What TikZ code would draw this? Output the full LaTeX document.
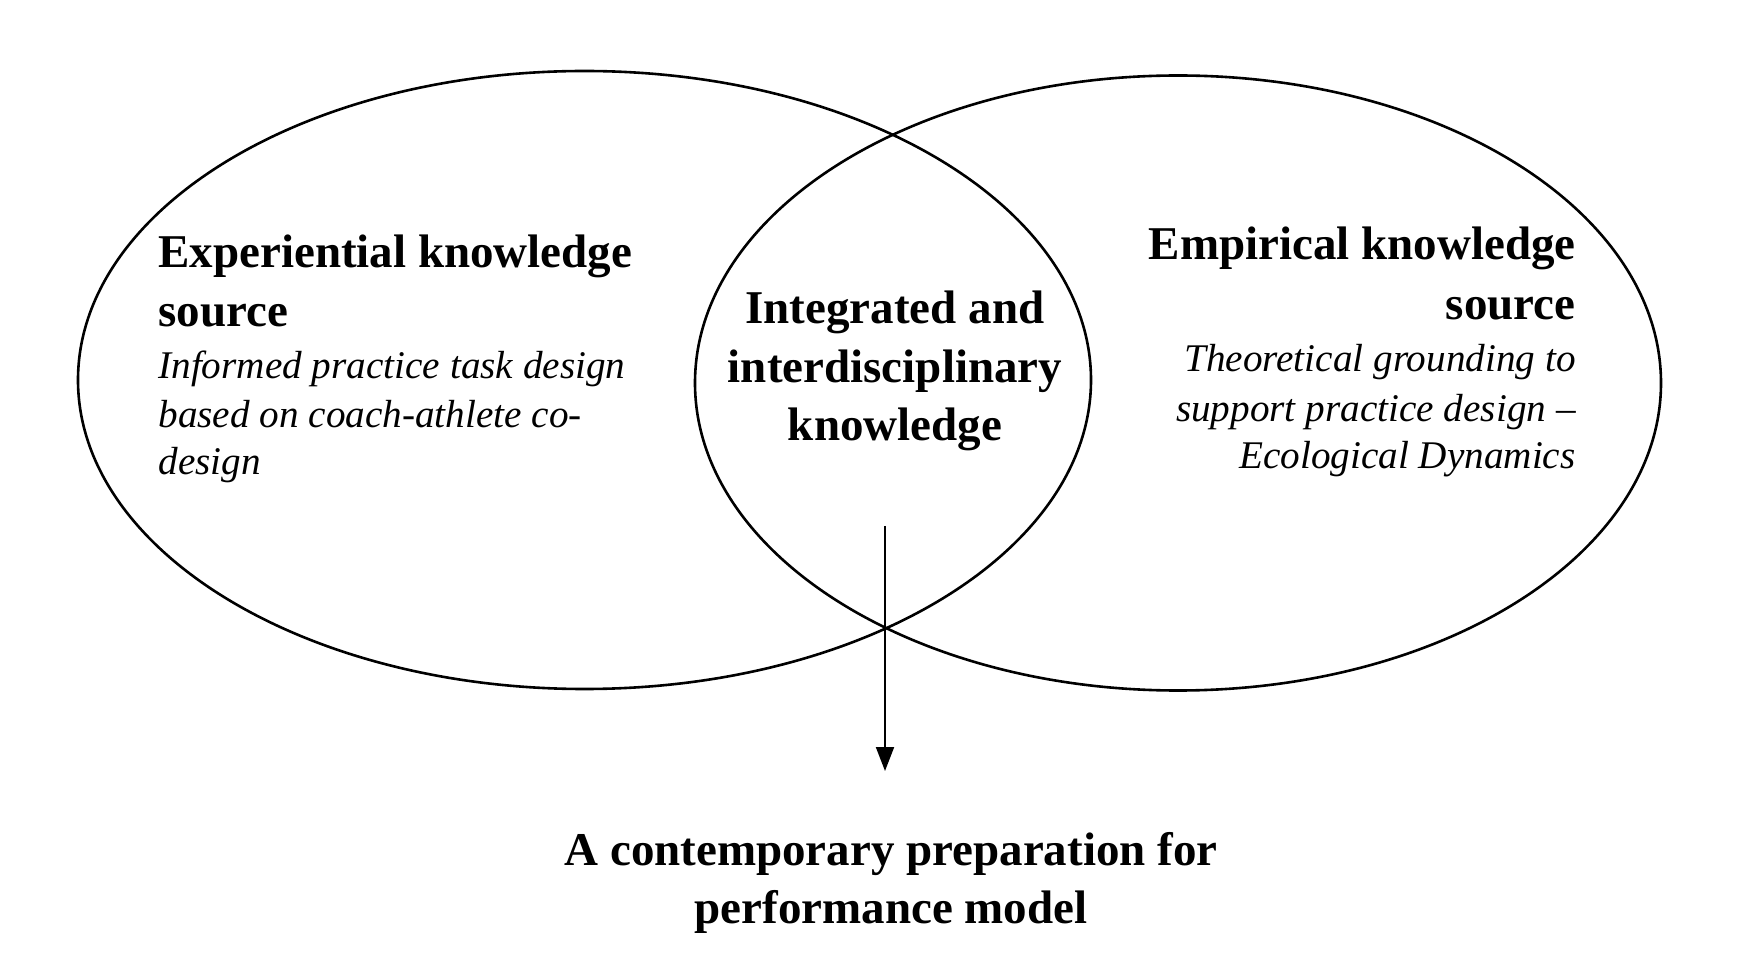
\documentclass[tikz,border=0pt]{standalone}
\usepackage{fontspec}
\setmainfont{Liberation Serif}
\usetikzlibrary{arrows.meta}
\begin{document}
\begin{tikzpicture}[x=0.5pt,y=0.5pt,
  ring/.style={draw=black,line width=1.3pt},
  bold/.style={inner sep=0pt,font=\fontsize{23.5}{29}\selectfont\bfseries},
  ital/.style={inner sep=0pt,font=\fontsize{19.6}{24}\selectfont\itshape},
  flow/.style={line width=1pt,-{Triangle[width=9pt,length=12pt]}}]
\useasboundingbox[fill=white] (0,0) rectangle (1752,976);
% ellipses (y flipped: Y' = 976 - Y)
\draw[ring] (584.5,596) ellipse [x radius=506.5, y radius=309];
\draw[ring] (1178,593) ellipse [x radius=483, y radius=307.5];
% left block
\node[bold,anchor=base west] (l1) at (158,708) {Experiential knowledge};
\node[bold,anchor=base west] (l2) at (158,649) {source};
\node[ital,anchor=base west] (l3) at (158,597) {Informed practice task design};
\node[ital,anchor=base west] (l4) at (158,548) {based on coach-athlete co-};
\node[ital,anchor=base west] (l5) at (158,501) {design};
% right block
\node[bold,anchor=base east] (r1) at (1576,716) {Empirical knowledge};
\node[bold,anchor=base east] (r2) at (1576,656) {source};
\node[ital,anchor=base east] (r3) at (1576,604) {Theoretical grounding to};
\node[ital,anchor=base east] (r4) at (1576,554) {support practice design –};
\node[ital,anchor=base east] (r5) at (1576,507) {Ecological Dynamics};
% centre
\node[bold,anchor=base] (c1) at (895,652) {Integrated and};
\node[bold,anchor=base] (c2) at (895,593) {interdisciplinary};
\node[bold,anchor=base] (c3) at (895,535) {knowledge};
% bottom
\node[bold,anchor=base] (b1) at (891,111) {A contemporary preparation for};
\node[bold,anchor=base] (b2) at (891,53) {performance model};
% arrow
\coordinate (arrstart) at (885,450);
\coordinate (arrend) at (885,205);
\draw[flow] (arrstart) -- (arrend);
\end{tikzpicture}
\end{document}
